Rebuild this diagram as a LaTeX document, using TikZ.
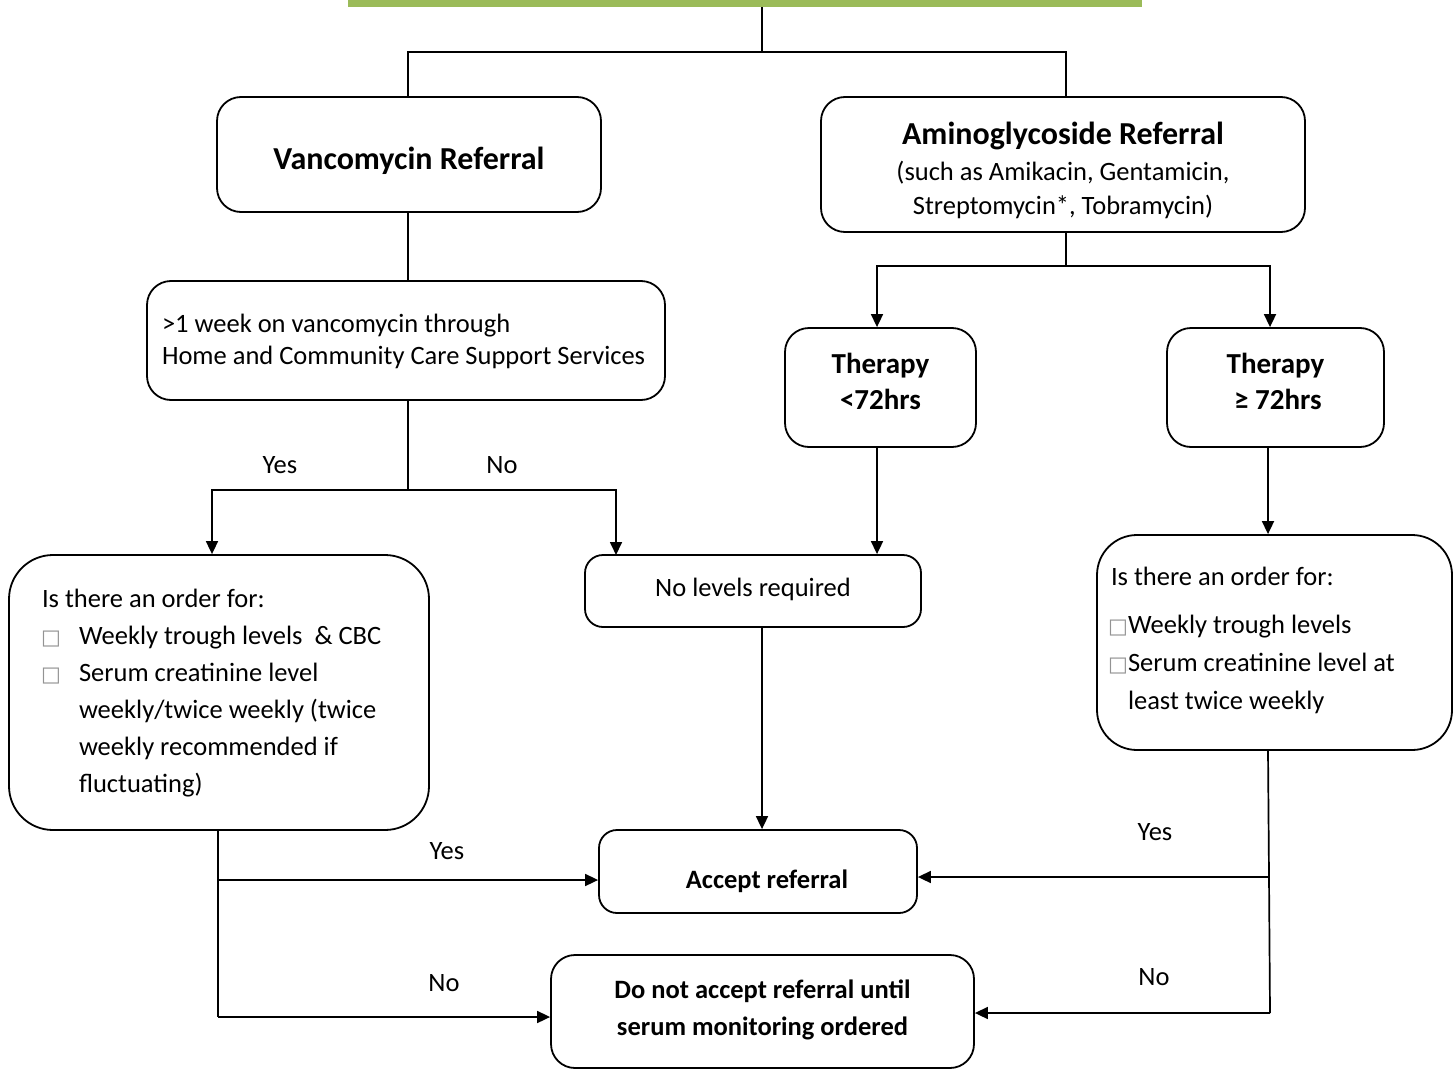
\documentclass[tikz,border=0pt]{standalone}
\usepackage{fontspec}
\setmainfont{Carlito}
\newfontfamily\symfont{DejaVu Sans}
\usetikzlibrary{arrows.meta}
\definecolor{titlegreen}{HTML}{9BBB59}
\newcommand\bx{{\symfont\fontsize{21}{21}\selectfont\color{gray!85}□}}
\newcommand\natsp{\spaceskip=0pt\xspaceskip=0pt\relax}
\begin{document}
\begin{tikzpicture}[x=1pt,y=-1pt,
  box/.style={draw, line width=1.8pt, rounded corners=24pt, inner sep=0pt,
    font=\fontsize{26.5}{34}\selectfont},
  conn/.style={line width=1.7pt},
  arr/.style={conn, -{Triangle[length=13pt,width=12pt]}},
  lbl/.style={font=\fontsize{26.5}{32}\selectfont, inner sep=0pt},
]
\useasboundingbox (0,0) rectangle (1455,1070);
\node[fill=titlegreen, minimum width=794pt, minimum height=7pt, inner sep=0pt, anchor=north] (title) at (745,0) {};

\node[box, minimum width=384pt, minimum height=115pt, text height=30pt, text depth=0pt,
  font=\fontsize{32}{38}\selectfont\bfseries] (vanc) at (409,154.5)
  {Vancomycin Referral};
\node[box, minimum width=484pt, minimum height=135pt, text width=460pt,
  text height=0pt, text depth=40pt, font=\fontsize{26.5}{34}\selectfont] (amino) at (1063,164.5)
  {\natsp\centering{\fontsize{32}{34}\selectfont\bfseries Aminoglycoside Referral}\\[2pt]
   (such as Amikacin, Gentamicin,\\Streptomycin*, Tobramycin)\par};
\node[box, minimum width=518pt, minimum height=119pt, text width=488pt,
  text height=0pt, text depth=17pt, font=\fontsize{26.5}{32}\selectfont] (week) at (406,340.5)
  {\natsp\raggedright >1 week on vancomycin through\\Home and Community Care Support Services\par};
\node[box, minimum width=191pt, minimum height=119pt, text width=180pt,
  text height=0pt, text depth=29pt, font=\fontsize{29}{36}\selectfont\bfseries] (t72) at (880.5,387.5)
  {\natsp\centering Therapy\\<72hrs\par};
\node[box, minimum width=217pt, minimum height=119pt, text width=200pt,
  text height=0pt, text depth=29pt, font=\fontsize{29}{36}\selectfont\bfseries] (tge72) at (1275.5,387.5)
  {\natsp\centering Therapy\\\,≥ 72hrs\par};
\node[box, rounded corners=44pt, minimum width=420pt, minimum height=275pt,
  text width=354pt, text height=0pt, text depth=171pt,
  font=\fontsize{26.5}{37}\selectfont] (left) at (219,692.5)
  {\natsp\raggedright Is there an order for:\\
   \makebox[37pt][l]{\hspace*{-1pt}\bx}Weekly trough levels \ \& CBC\\
   \makebox[37pt][l]{\hspace*{-1pt}\bx}Serum creatinine level\\
   \hspace*{37pt}weekly/twice weekly (twice\\
   \hspace*{37pt}weekly recommended if\\
   \hspace*{37pt}fluctuating)\par};
\node[box, rounded corners=18pt, minimum width=336pt, minimum height=72pt,
  text height=11pt, text depth=0pt] (nolev) at (753,591)
  {No levels required};
\node[box, rounded corners=40pt, minimum width=355pt, minimum height=215pt,
  text width=327pt, text height=0pt, text depth=115pt,
  font=\fontsize{26.5}{38}\selectfont] (right) at (1274.5,642.5)
  {\natsp\raggedright Is there an order for:\\[10pt]
   \makebox[17pt][l]{\hspace*{-3pt}\bx}Weekly trough levels\\
   \makebox[17pt][l]{\hspace*{-3pt}\bx}Serum creatinine level at\\
   \hspace*{17pt}least twice weekly\par};
\node[box, rounded corners=18pt, minimum width=318pt, minimum height=83pt,
  text height=34pt, text depth=0pt,
  font=\fontsize{26.5}{34}\selectfont\bfseries] (accept) at (758,871.5)
  {\hspace*{18pt}Accept referral};
\node[box, rounded corners=24pt, minimum width=423pt, minimum height=113pt, text width=400pt,
  text height=0pt, text depth=27pt,
  font=\fontsize{26.5}{37}\selectfont\bfseries] (donot) at (762.5,1011.5)
  {\natsp\centering Do not accept referral until\\serum monitoring ordered\par};

% top connectors
\coordinate (j1) at (762,52);
\draw[conn] (title.south -| j1) -- (j1);
\draw[conn] (vanc.north -| 408,0) |- (j1) -| (amino.north -| 1066,0);
\draw[conn] (vanc.south -| 408,0) -- (week.north -| 408,0);

% vancomycin branch
\coordinate (j2) at (408,490);
\coordinate (nolevin) at (616,555);
\draw[conn] (week.south -| j2) -- (j2);
\draw[arr] (j2) -| (left.north -| 212,0);
\draw[arr] (j2) -| (nolevin);
\node[lbl] (yes1) at (280,465) {Yes};
\node[lbl] (no1) at (502,465) {No};

% aminoglycoside branch
\coordinate (j3) at (1066,266);
\draw[conn] (amino.south -| j3) -- (j3);
\draw[arr] (j3) -| (t72.north -| 877,0);
\draw[arr] (j3) -| (tge72.north -| 1270,0);
\draw[arr] (t72.south -| 877,0) -- (nolev.north -| 877,0);
\draw[arr] (tge72.south -| 1268,0) -- (right.north -| 1268,0);
\draw[arr] (nolev.south -| 762,0) -- (accept.north -| 762,0);

% left outcomes
\coordinate (l1) at (218,880);
\coordinate (l2) at (218,1017);
\draw[conn] (left.south -| l1) -- (l2);
\draw[arr] (l1) -- (accept.west |- l1);
\draw[arr] (l2) -- (donot.west |- l2);
\node[lbl] (yes2) at (447,851) {Yes};
\node[lbl] (no2) at (444,983) {No};

% right outcomes
\coordinate (r1) at (1269,877);
\coordinate (r2) at (1270,1013);
\draw[conn] (right.south -| 1268,0) -- (r1) -- (r2);
\draw[arr] (r1) -- (accept.east |- r1);
\draw[arr] (r2) -- (donot.east |- r2);
\node[lbl] (yes3) at (1155,832) {Yes};
\node[lbl] (no3) at (1154,977) {No};
\end{tikzpicture}
\end{document}
